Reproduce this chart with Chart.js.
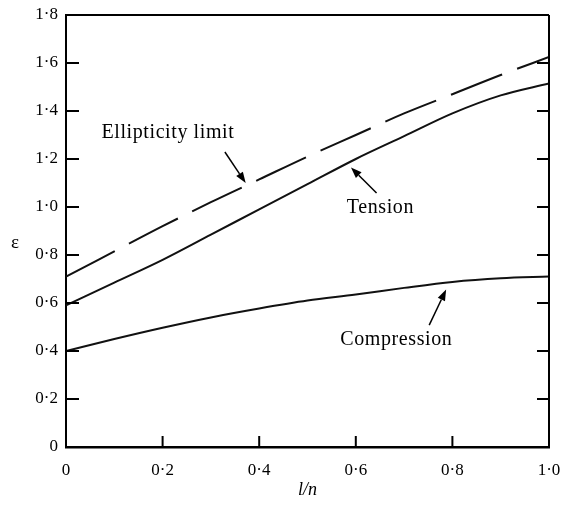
<!DOCTYPE html>
<html>
<head>
<meta charset="utf-8">
<script src="https://cdn.jsdelivr.net/npm/chart.js@4/dist/chart.umd.min.js"></script>
<style>
  html, body { margin: 0; padding: 0; background: #fff; }
  #wrap { width: 563px; height: 506px; }
</style>
</head>
<body>
<div id="wrap"><canvas id="myChart" width="563" height="506"></canvas></div>
<script>
// values
let xValues     = [0, 0.1, 0.2, 0.3, 0.4, 0.5, 0.6, 0.7, 0.8, 0.9, 1.0];
let ellipticity = [0.71, 0.815, 0.92, 1.02, 1.115, 1.21, 1.30, 1.39, 1.47, 1.55, 1.625];
let tension     = [0.59, 0.685, 0.78, 0.885, 0.99, 1.095, 1.20, 1.295, 1.39, 1.465, 1.515];
let compression = [0.40, 0.45, 0.497, 0.54, 0.577, 0.61, 0.635, 0.663, 0.688, 0.703, 0.71];

let xTicks = [0, 0.2, 0.4, 0.6, 0.8, 1.0];
let yTicks = [0, 0.2, 0.4, 0.6, 0.8, 1.0, 1.2, 1.4, 1.6, 1.8];

// labels with their arrows, in data units [textX, textY, tailX, tailY, headX, headY]
let notes = [
  ['Ellipticity limit', 0.211, 1.308, 0.329, 1.229, 0.372, 1.10],
  ['Tension',           0.651, 0.996, 0.643, 1.058, 0.590, 1.165],
  ['Compression',       0.684, 0.446, 0.752, 0.508, 0.787, 0.656]
];

const serif = "'Liberation Serif', 'DejaVu Serif', serif";

function pts(ys) {
  return xValues.map((x, i) => ({ x: x, y: ys[i] }));
}

function fmt(v) {
  if (Math.abs(v) < 1e-9) return '0';
  return v.toFixed(1).replace('.', '\u00b7');
}

let frame = {
  id: 'frame',
  afterDraw(chart) {
    const ctx = chart.ctx;
    const a = chart.chartArea;
    const xs = chart.scales.x, ys = chart.scales.y;
    ctx.save();
    ctx.strokeStyle = '#000';
    ctx.lineWidth = 2;
    ctx.beginPath();
    ctx.moveTo(a.left, a.top); ctx.lineTo(a.right, a.top);
    ctx.moveTo(a.right, a.top); ctx.lineTo(a.right, a.bottom);
    ctx.stroke();

    // inward ticks
    ctx.lineWidth = 2;
    ctx.beginPath();
    yTicks.forEach(v => {
      if (v <= 0 || v >= 1.8) return;
      const py = ys.getPixelForValue(v);
      ctx.moveTo(a.left, py); ctx.lineTo(a.left + 13, py);
      ctx.moveTo(a.right, py); ctx.lineTo(a.right - 12, py);
    });
    xTicks.forEach(v => {
      if (v <= 0 || v >= 1) return;
      const px = xs.getPixelForValue(v);
      ctx.moveTo(px, a.bottom); ctx.lineTo(px, a.bottom - 11);
    });
    ctx.stroke();

    // epsilon axis symbol
    ctx.fillStyle = '#000';
    ctx.font = '19px ' + serif;
    ctx.textAlign = 'center';
    ctx.textBaseline = 'middle';
    ctx.fillText('\u03b5', 15, ys.getPixelForValue(0.85));

    // annotations
    ctx.font = '20px ' + serif;
    ctx.letterSpacing = '0.6px';
    notes.forEach(n => {
      ctx.fillText(n[0], xs.getPixelForValue(n[1]), ys.getPixelForValue(n[2]));
      const x1 = xs.getPixelForValue(n[3]), y1 = ys.getPixelForValue(n[4]);
      const x2 = xs.getPixelForValue(n[5]), y2 = ys.getPixelForValue(n[6]);
      const ang = Math.atan2(y2 - y1, x2 - x1);
      const hl = 11, hw = 4;
      ctx.lineWidth = 1.5;
      ctx.beginPath();
      ctx.moveTo(x1, y1);
      ctx.lineTo(x2 - hl * Math.cos(ang), y2 - hl * Math.sin(ang));
      ctx.stroke();
      ctx.beginPath();
      ctx.moveTo(x2, y2);
      ctx.lineTo(x2 - hl * Math.cos(ang) + hw * Math.sin(ang), y2 - hl * Math.sin(ang) - hw * Math.cos(ang));
      ctx.lineTo(x2 - hl * Math.cos(ang) - hw * Math.sin(ang), y2 - hl * Math.sin(ang) + hw * Math.cos(ang));
      ctx.closePath();
      ctx.fill();
    });
    ctx.restore();
  }
};

let myChart = new Chart(document.getElementById('myChart').getContext('2d'), {
  type: 'line',
  data: {
    datasets: [
      {
        label: 'Ellipticity limit',
        data: pts(ellipticity),
        borderColor: '#111',
        borderWidth: 2,
        borderDash: [55, 16],
        pointRadius: 0,
        fill: false,
        cubicInterpolationMode: 'monotone'
      },
      {
        label: 'Tension',
        data: pts(tension),
        borderColor: '#111',
        borderWidth: 2,
        pointRadius: 0,
        fill: false,
        cubicInterpolationMode: 'monotone'
      },
      {
        label: 'Compression',
        data: pts(compression),
        borderColor: '#111',
        borderWidth: 2,
        pointRadius: 0,
        fill: false,
        cubicInterpolationMode: 'monotone'
      }
    ]
  },
  options: {
    responsive: false,
    animation: false,
    layout: { padding: { top: 15, right: 14, bottom: 0, left: 0 } },
    plugins: {
      legend: { display: false },
      tooltip: { enabled: false }
    },
    scales: {
      x: {
        type: 'linear',
        min: 0,
        max: 1,
        afterFit(scale) {
          scale.height = 59;
          scale.paddingLeft = 0;
          scale.paddingRight = 0;
        },
        afterBuildTicks(scale) { scale.ticks = xTicks.map(v => ({ value: v })); },
        grid: { display: false, drawTicks: false },
        border: { display: true, color: '#000', width: 2.5 },
        ticks: {
          color: '#000',
          padding: 13,
          font: { family: serif, size: 17 },
          maxRotation: 0,
          callback: v => fmt(v)
        },
        title: {
          display: true,
          text: 'l/n',
          color: '#000',
          font: { family: serif, size: 18, style: 'italic' },
          padding: { top: 0, bottom: 5 }
        }
      },
      y: {
        min: 0,
        max: 1.8,
        afterFit(scale) {
          scale.width = 66;
          scale.paddingTop = 0;
          scale.paddingBottom = 0;
        },
        afterBuildTicks(scale) { scale.ticks = yTicks.map(v => ({ value: v })); },
        grid: { display: false, drawTicks: false },
        border: { display: true, color: '#000', width: 2 },
        ticks: {
          color: '#000',
          padding: 8,
          font: { family: serif, size: 17 },
          callback: v => fmt(v)
        }
      }
    }
  },
  plugins: [frame]
});
</script>
</body>
</html>
